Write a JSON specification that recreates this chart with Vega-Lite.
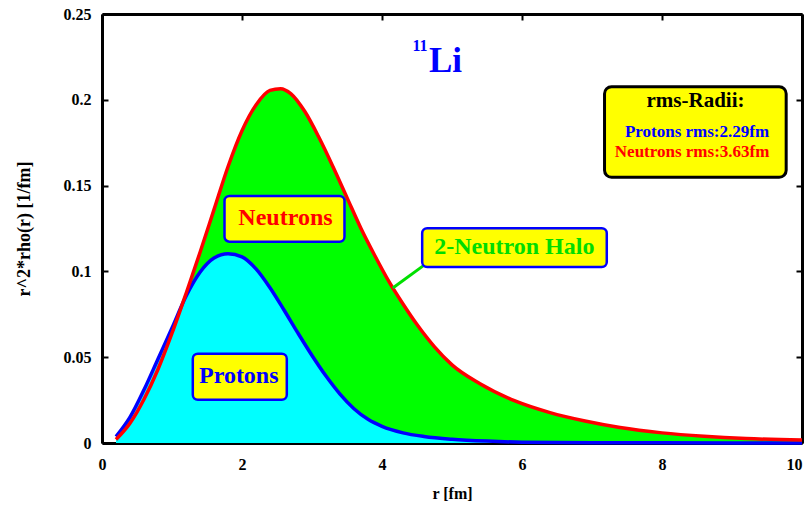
{
  "$schema": "https://vega.github.io/schema/vega-lite/v6.json",
  "autosize": "none",
  "width": 700,
  "height": 429,
  "padding": {"left": 102, "top": 14, "right": 6, "bottom": 67},
  "background": "white",
  "datasets": {
    "curves": [
      {"r": 0.2, "v": 0.002, "s": "n"},
      {"r": 0.4, "v": 0.0115, "s": "n"},
      {"r": 0.6, "v": 0.0255, "s": "n"},
      {"r": 0.8, "v": 0.043, "s": "n"},
      {"r": 1.0, "v": 0.064, "s": "n"},
      {"r": 1.2, "v": 0.087, "s": "n"},
      {"r": 1.4, "v": 0.111, "s": "n"},
      {"r": 1.6, "v": 0.136, "s": "n"},
      {"r": 1.8, "v": 0.161, "s": "n"},
      {"r": 2.0, "v": 0.182, "s": "n"},
      {"r": 2.2, "v": 0.197, "s": "n"},
      {"r": 2.4, "v": 0.2055, "s": "n"},
      {"r": 2.55, "v": 0.2065, "s": "n"},
      {"r": 2.7, "v": 0.2035, "s": "n"},
      {"r": 2.9, "v": 0.193, "s": "n"},
      {"r": 3.1, "v": 0.178, "s": "n"},
      {"r": 3.3, "v": 0.161, "s": "n"},
      {"r": 3.5, "v": 0.143, "s": "n"},
      {"r": 3.7, "v": 0.125, "s": "n"},
      {"r": 3.9, "v": 0.109, "s": "n"},
      {"r": 4.1, "v": 0.094, "s": "n"},
      {"r": 4.3, "v": 0.081, "s": "n"},
      {"r": 4.5, "v": 0.069, "s": "n"},
      {"r": 4.75, "v": 0.056, "s": "n"},
      {"r": 5.0, "v": 0.0455, "s": "n"},
      {"r": 5.4, "v": 0.0345, "s": "n"},
      {"r": 5.9, "v": 0.0245, "s": "n"},
      {"r": 6.4, "v": 0.0177, "s": "n"},
      {"r": 6.9, "v": 0.0128, "s": "n"},
      {"r": 7.4, "v": 0.009, "s": "n"},
      {"r": 8.0, "v": 0.0059, "s": "n"},
      {"r": 8.6, "v": 0.0039, "s": "n"},
      {"r": 9.2, "v": 0.0026, "s": "n"},
      {"r": 10, "v": 0.0018, "s": "n"},
      {"r": 0.2, "v": 0.0037, "s": "p"},
      {"r": 0.4, "v": 0.015, "s": "p"},
      {"r": 0.6, "v": 0.031, "s": "p"},
      {"r": 0.8, "v": 0.049, "s": "p"},
      {"r": 1.0, "v": 0.067, "s": "p"},
      {"r": 1.2, "v": 0.0855, "s": "p"},
      {"r": 1.4, "v": 0.0995, "s": "p"},
      {"r": 1.6, "v": 0.1078, "s": "p"},
      {"r": 1.8, "v": 0.1103, "s": "p"},
      {"r": 2.0, "v": 0.1085, "s": "p"},
      {"r": 2.2, "v": 0.1015, "s": "p"},
      {"r": 2.4, "v": 0.0905, "s": "p"},
      {"r": 2.6, "v": 0.0775, "s": "p"},
      {"r": 2.8, "v": 0.064, "s": "p"},
      {"r": 3.0, "v": 0.051, "s": "p"},
      {"r": 3.2, "v": 0.039, "s": "p"},
      {"r": 3.4, "v": 0.0285, "s": "p"},
      {"r": 3.6, "v": 0.02, "s": "p"},
      {"r": 3.8, "v": 0.0138, "s": "p"},
      {"r": 4.0, "v": 0.0097, "s": "p"},
      {"r": 4.3, "v": 0.0059, "s": "p"},
      {"r": 4.6, "v": 0.0038, "s": "p"},
      {"r": 5.0, "v": 0.0022, "s": "p"},
      {"r": 5.5, "v": 0.0011, "s": "p"},
      {"r": 6.0, "v": 0.0005, "s": "p"},
      {"r": 7.0, "v": 0.0002, "s": "p"},
      {"r": 8.0, "v": 0.0001, "s": "p"},
      {"r": 10, "v": 0.0, "s": "p"}
    ]
  },
  "resolve": {"axis": {"x": "independent", "y": "independent"}},
  "layer": [
    {
      "data": {"name": "curves"},
      "transform": [{"filter": "datum.s === 'n'"}],
      "mark": {"type": "area", "color": "#00ff00", "interpolate": "monotone"},
      "encoding": {
        "x": {"field": "r", "type": "quantitative", "scale": {"domain": [0, 10], "nice": false, "zero": false},
              "axis": {"orient": "bottom", "values": [0, 2, 4, 6, 8, 10], "title": "r [fm]", "labelPadding": 19, "titlePadding": 13, "labelFlush": false,
                       "labelAlign": {"condition": {"test": "datum.value === 10", "value": "right"}, "value": "center"}}},
        "y": {"field": "v", "type": "quantitative", "scale": {"domain": [0, 0.25], "nice": false},
              "axis": {"orient": "left", "values": [0, 0.05, 0.1, 0.15, 0.2, 0.25], "format": "~g", "title": "r^2*rho(r) [1/fm]", "titleFontSize": 18, "labelPadding": 17, "titlePadding": 30, "labelFlush": false}}
      }
    },
    {
      "data": {"name": "curves"},
      "transform": [{"filter": "datum.s === 'p'"}],
      "mark": {"type": "area", "color": "#00ffff", "interpolate": "monotone"},
      "encoding": {
        "x": {"field": "r", "type": "quantitative", "scale": {"domain": [0, 10], "nice": false, "zero": false},
              "axis": {"orient": "top", "values": [0, 2, 4, 6, 8, 10], "labels": false, "title": null}},
        "y": {"field": "v", "type": "quantitative", "scale": {"domain": [0, 0.25], "nice": false},
              "axis": {"orient": "right", "values": [0, 0.05, 0.1, 0.15, 0.2, 0.25], "labels": false, "title": null}}
      }
    },
    {
      "data": {"name": "curves"},
      "transform": [{"filter": "datum.s === 'p'"}],
      "mark": {"type": "line", "color": "#0000ff", "strokeWidth": 3.5, "interpolate": "monotone"},
      "encoding": {
        "x": {"field": "r", "type": "quantitative", "scale": {"domain": [0, 10], "nice": false, "zero": false}, "axis": null},
        "y": {"field": "v", "type": "quantitative", "scale": {"domain": [0, 0.25], "nice": false}, "axis": null}
      }
    },
    {
      "data": {"name": "curves"},
      "transform": [{"filter": "datum.s === 'n'"}],
      "mark": {"type": "line", "color": "#ff0000", "strokeWidth": 3.5, "interpolate": "monotone"},
      "encoding": {
        "x": {"field": "r", "type": "quantitative", "scale": {"domain": [0, 10], "nice": false, "zero": false}, "axis": null},
        "y": {"field": "v", "type": "quantitative", "scale": {"domain": [0, 0.25], "nice": false}, "axis": null}
      }
    },
    {
      "data": {"values": [{}]},
      "mark": {"type": "rule", "color": "#00e000", "strokeWidth": 3},
      "encoding": {
        "x": {"datum": 4.607, "type": "quantitative", "scale": {"domain": [0, 10], "nice": false, "zero": false}, "axis": null},
        "x2": {"datum": 4.154},
        "y": {"datum": 0.1038, "type": "quantitative", "scale": {"domain": [0, 0.25], "nice": false}, "axis": null},
        "y2": {"datum": 0.0903}
      }
    },
    {
      "data": {"values": [{}]},
      "mark": {"type": "rect", "fill": "#ffff00", "stroke": "#0000ff", "strokeWidth": 2.5, "cornerRadius": 5},
      "encoding": {
        "x": {"datum": 1.75, "type": "quantitative", "scale": {"domain": [0, 10], "nice": false, "zero": false}, "axis": null},
        "x2": {"datum": 3.464},
        "y": {"datum": 0.144, "type": "quantitative", "scale": {"domain": [0, 0.25], "nice": false}, "axis": null},
        "y2": {"datum": 0.1173}
      }
    },
    {
      "data": {"values": [{}]},
      "mark": {"type": "rect", "fill": "#ffff00", "stroke": "#0000ff", "strokeWidth": 2.5, "cornerRadius": 5},
      "encoding": {
        "x": {"datum": 4.574, "type": "quantitative", "scale": {"domain": [0, 10], "nice": false, "zero": false}, "axis": null},
        "x2": {"datum": 7.211},
        "y": {"datum": 0.1252, "type": "quantitative", "scale": {"domain": [0, 0.25], "nice": false}, "axis": null},
        "y2": {"datum": 0.1025}
      }
    },
    {
      "data": {"values": [{}]},
      "mark": {"type": "rect", "fill": "#ffff00", "stroke": "#0000ff", "strokeWidth": 2.5, "cornerRadius": 5},
      "encoding": {
        "x": {"datum": 1.297, "type": "quantitative", "scale": {"domain": [0, 10], "nice": false, "zero": false}, "axis": null},
        "x2": {"datum": 2.64},
        "y": {"datum": 0.052, "type": "quantitative", "scale": {"domain": [0, 0.25], "nice": false}, "axis": null},
        "y2": {"datum": 0.0252}
      }
    },
    {
      "data": {"values": [{}]},
      "mark": {"type": "rect", "fill": "#ffff00", "stroke": "#000000", "strokeWidth": 3, "cornerRadius": 7},
      "encoding": {
        "x": {"datum": 7.179, "type": "quantitative", "scale": {"domain": [0, 10], "nice": false, "zero": false}, "axis": null},
        "x2": {"datum": 9.774},
        "y": {"datum": 0.2076, "type": "quantitative", "scale": {"domain": [0, 0.25], "nice": false}, "axis": null},
        "y2": {"datum": 0.1548}
      }
    },
    {
      "data": {"values": [{}]},
      "mark": {"type": "text", "text": "Neutrons", "font": "Liberation Serif", "fontSize": 24, "fontWeight": "bold", "color": "#ff0000", "align": "center", "baseline": "middle"},
      "encoding": {
        "x": {"datum": 2.621, "type": "quantitative", "scale": {"domain": [0, 10], "nice": false, "zero": false}, "axis": null},
        "y": {"datum": 0.131, "type": "quantitative", "scale": {"domain": [0, 0.25], "nice": false}, "axis": null}
      }
    },
    {
      "data": {"values": [{}]},
      "mark": {"type": "text", "text": "2-Neutron Halo", "font": "Liberation Serif", "fontSize": 24, "fontWeight": "bold", "color": "#00dd00", "align": "center", "baseline": "middle"},
      "encoding": {
        "x": {"datum": 5.89, "type": "quantitative", "scale": {"domain": [0, 10], "nice": false, "zero": false}, "axis": null},
        "y": {"datum": 0.1142, "type": "quantitative", "scale": {"domain": [0, 0.25], "nice": false}, "axis": null}
      }
    },
    {
      "data": {"values": [{}]},
      "mark": {"type": "text", "text": "Protons", "font": "Liberation Serif", "fontSize": 24, "fontWeight": "bold", "color": "#0000ff", "align": "center", "baseline": "middle"},
      "encoding": {
        "x": {"datum": 1.954, "type": "quantitative", "scale": {"domain": [0, 10], "nice": false, "zero": false}, "axis": null},
        "y": {"datum": 0.0388, "type": "quantitative", "scale": {"domain": [0, 0.25], "nice": false}, "axis": null}
      }
    },
    {
      "data": {"values": [{}]},
      "mark": {"type": "text", "text": "rms-Radii:", "font": "Liberation Serif", "fontSize": 21, "fontWeight": "bold", "color": "#000000", "align": "center", "baseline": "middle"},
      "encoding": {
        "x": {"datum": 8.479, "type": "quantitative", "scale": {"domain": [0, 10], "nice": false, "zero": false}, "axis": null},
        "y": {"datum": 0.1994, "type": "quantitative", "scale": {"domain": [0, 0.25], "nice": false}, "axis": null}
      }
    },
    {
      "data": {"values": [{}]},
      "mark": {"type": "text", "text": "Protons rms:2.29fm", "font": "Liberation Serif", "fontSize": 17, "fontWeight": "bold", "color": "#0000ff", "align": "center", "baseline": "middle"},
      "encoding": {
        "x": {"datum": 8.5, "type": "quantitative", "scale": {"domain": [0, 10], "nice": false, "zero": false}, "axis": null},
        "y": {"datum": 0.181, "type": "quantitative", "scale": {"domain": [0, 0.25], "nice": false}, "axis": null}
      }
    },
    {
      "data": {"values": [{}]},
      "mark": {"type": "text", "text": "Neutrons rms:3.63fm", "font": "Liberation Serif", "fontSize": 17, "fontWeight": "bold", "color": "#ff0000", "align": "center", "baseline": "middle"},
      "encoding": {
        "x": {"datum": 8.43, "type": "quantitative", "scale": {"domain": [0, 10], "nice": false, "zero": false}, "axis": null},
        "y": {"datum": 0.1694, "type": "quantitative", "scale": {"domain": [0, 0.25], "nice": false}, "axis": null}
      }
    },
    {
      "data": {"values": [{}]},
      "mark": {"type": "text", "text": "Li", "font": "Liberation Serif", "fontSize": 35, "fontWeight": "bold", "color": "#0000ff", "align": "center", "baseline": "alphabetic"},
      "encoding": {
        "x": {"datum": 4.907, "type": "quantitative", "scale": {"domain": [0, 10], "nice": false, "zero": false}, "axis": null},
        "y": {"datum": 0.2164, "type": "quantitative", "scale": {"domain": [0, 0.25], "nice": false}, "axis": null}
      }
    },
    {
      "data": {"values": [{}]},
      "mark": {"type": "text", "text": "11", "font": "Liberation Serif", "fontSize": 16, "fontWeight": "bold", "color": "#0000ff", "align": "center", "baseline": "alphabetic"},
      "encoding": {
        "x": {"datum": 4.543, "type": "quantitative", "scale": {"domain": [0, 10], "nice": false, "zero": false}, "axis": null},
        "y": {"datum": 0.2287, "type": "quantitative", "scale": {"domain": [0, 0.25], "nice": false}, "axis": null}
      }
    }
  ],
  "config": {
    "view": {"stroke": null},
    "axis": {
      "grid": false,
      "domainColor": "#000000",
      "domainWidth": 3,
      "tickColor": "#000000",
      "tickWidth": 2,
      "tickSize": -6,
      "labelFont": "Liberation Serif",
      "labelFontSize": 16,
      "labelFontWeight": "bold",
      "labelColor": "#000000",
      "titleFont": "Liberation Serif",
      "titleFontSize": 16,
      "titleFontWeight": "bold",
      "titleColor": "#000000"
    }
  }
}
